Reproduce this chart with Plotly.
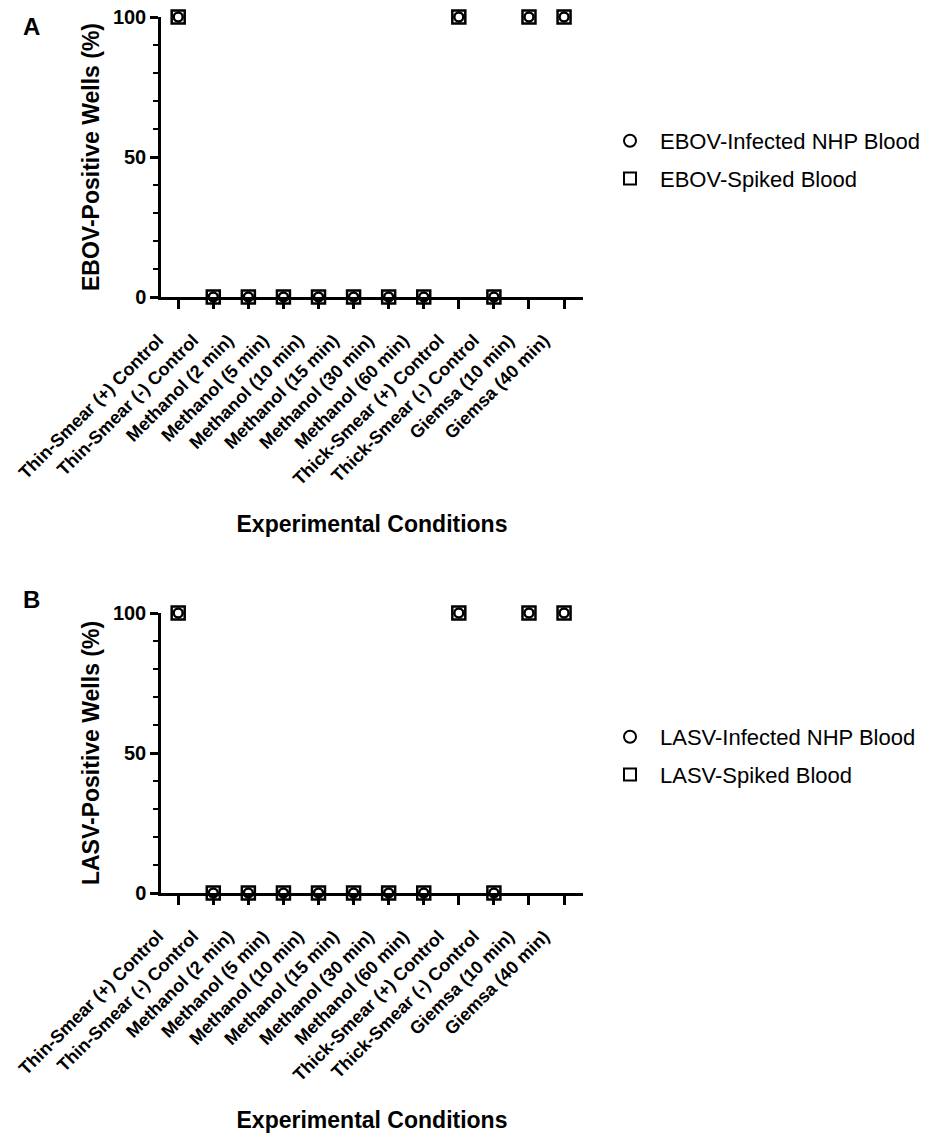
import plotly.graph_objects as go

categories = ["Thin-Smear (+) Control", "Thin-Smear (-) Control", "Methanol (2 min)",
              "Methanol (5 min)", "Methanol (10 min)", "Methanol (15 min)",
              "Methanol (30 min)", "Methanol (60 min)", "Thick-Smear (+) Control",
              "Thick-Smear (-) Control", "Giemsa (10 min)", "Giemsa (40 min)"]
ebov_infected = [100, 0, 0, 0, 0, 0, 0, 0, 100, 0, 100, 100]
ebov_spiked = [100, 0, 0, 0, 0, 0, 0, 0, 100, 0, 100, 100]
lasv_infected = [100, 0, 0, 0, 0, 0, 0, 0, 100, 0, 100, 100]
lasv_spiked = [100, 0, 0, 0, 0, 0, 0, 0, 100, 0, 100, 100]
y_ticks = [0, 50, 100]

W, H = 932, 1136
xpos = list(range(1, len(categories) + 1))
FONT = "Liberation Sans, Arial, sans-serif"

def px(v):
    return v / W

def py(v):
    return 1 - v / H

fig = go.Figure()

def add_series(vals, name, symbol, size, xa, ya, legend, group):
    fig.add_trace(go.Scatter(
        x=xpos, y=vals, mode="markers", name=name, xaxis=xa, yaxis=ya,
        legend=legend, legendgroup=group, cliponaxis=False,
        marker=dict(symbol=symbol, size=size, color="black",
                    line=dict(color="black", width=2.5))))

add_series(ebov_infected, "EBOV-Infected NHP Blood", "circle-open", 9, "x", "y", "legend", "a1")
add_series(ebov_spiked, "EBOV-Spiked Blood", "square-open", 13, "x", "y", "legend", "a2")
add_series(lasv_infected, "LASV-Infected NHP Blood", "circle-open", 9, "x2", "y2", "legend2", "b1")
add_series(lasv_spiked, "LASV-Spiked Blood", "square-open", 13, "x2", "y2", "legend2", "b2")

xdom = [px(161), px(583)]
xrange = [0.51, 12.54]

def xaxis_cfg(anchor):
    return dict(domain=xdom, range=xrange, anchor=anchor, automargin=False,
                tickvals=xpos, ticktext=categories, tickangle=-45,
                ticks="outside", ticklen=9, tickwidth=2.5, tickcolor="black",
                ticklabelstandoff=14, ticklabelshift=-20, ticklabeloverflow="allow",
                showline=True, linecolor="black", linewidth=2.5,
                showgrid=False, zeroline=False,
                tickfont=dict(family=FONT, size=18, color="black", weight="bold"),
                title=dict(text="Experimental Conditions", standoff=28,
                           font=dict(family=FONT, size=23, color="black", weight="bold")))

def yaxis_cfg(dom, anchor, title):
    return dict(domain=dom, range=[0, 100], anchor=anchor, automargin=False,
                tickvals=y_ticks, ticks="outside", ticklen=8, tickwidth=2.5,
                tickcolor="black", showline=True, linecolor="black", linewidth=2.5,
                showgrid=False, zeroline=False, ticklabeloverflow="allow",
                minor=dict(dtick=10, ticks="outside", ticklen=5, tickwidth=2,
                           tickcolor="black", showgrid=False),
                tickfont=dict(family=FONT, size=20, color="black", weight="bold"),
                title=dict(text=title, standoff=7,
                           font=dict(family=FONT, size=23, color="black", weight="bold")))

leg_common = dict(xanchor="left", yanchor="top",
                  font=dict(family=FONT, size=22, color="black"),
                  itemsizing="constant", itemwidth=50, tracegroupgap=6,
                  bgcolor="rgba(0,0,0,0)")

fig.update_layout(
    width=W, height=H, margin=dict(l=0, r=0, t=0, b=0),
    plot_bgcolor="white", paper_bgcolor="white",
    xaxis=xaxis_cfg("y"),
    yaxis=yaxis_cfg([py(297), py(17)], "x", "EBOV-Positive Wells (%)"),
    xaxis2=xaxis_cfg("y2"),
    yaxis2=yaxis_cfg([py(893), py(613)], "x2", "LASV-Positive Wells (%)"),
    legend=dict(x=px(600), y=py(120), **leg_common),
    legend2=dict(x=px(600), y=py(716), **leg_common),
    annotations=[
        dict(text="<b>A</b>", x=px(21), y=py(26), xref="paper", yref="paper",
             xanchor="left", yanchor="middle", showarrow=False,
             font=dict(family=FONT, size=24, color="black")),
        dict(text="<b>B</b>", x=px(21), y=py(599), xref="paper", yref="paper",
             xanchor="left", yanchor="middle", showarrow=False,
             font=dict(family=FONT, size=24, color="black")),
    ],
)

fig.write_html("out.html", config={"displayModeBar": False},
               post_script="document.body.style.margin='0';document.body.style.overflow='hidden';")
